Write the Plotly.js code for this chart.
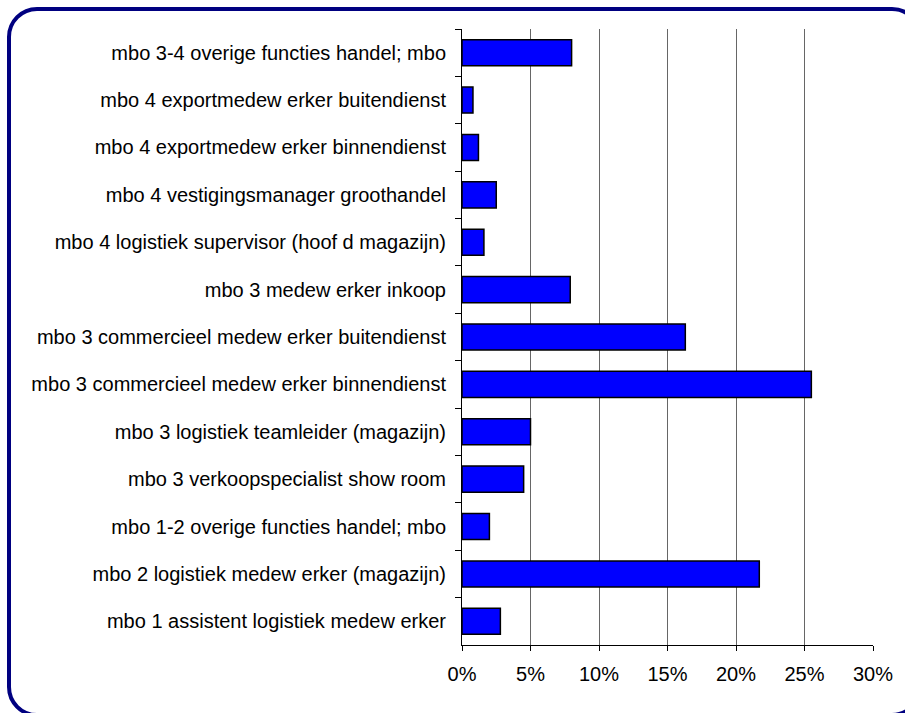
<!DOCTYPE html>
<html>
<head>
<meta charset="utf-8">
<script src="https://cdn.plot.ly/plotly-3.0.1.min.js"></script>
<style>
  html, body { margin: 0; padding: 0; background: #ffffff; overflow: hidden; }
  #wrap { position: relative; width: 905px; height: 713px; overflow: hidden; }
  #chart { position: absolute; left: 0; top: 0; width: 905px; height: 713px; }
  #frame { position: absolute; left: 7px; top: 7px; width: 915px; height: 710px;
           border: 4px solid #000080; border-radius: 30px; pointer-events: none; box-sizing: border-box; }
</style>
</head>
<body>
<div id="wrap">
  <div id="chart"></div>
  <div id="frame"></div>
</div>
<script>
// Categories, top to bottom as in the reference
const categories = [
  "mbo 3-4 overige functies handel; mbo",
  "mbo 4 exportmedew erker buitendienst",
  "mbo 4 exportmedew erker binnendienst",
  "mbo 4 vestigingsmanager groothandel",
  "mbo 4 logistiek supervisor (hoof d magazijn)",
  "mbo 3 medew erker inkoop",
  "mbo 3 commercieel medew erker buitendienst",
  "mbo 3 commercieel medew erker binnendienst",
  "mbo 3 logistiek teamleider (magazijn)",
  "mbo 3 verkoopspecialist show room",
  "mbo 1-2 overige functies handel; mbo",
  "mbo 2 logistiek medew erker (magazijn)",
  "mbo 1 assistent logistiek medew erker"
];
// Share in percent
const shares = [8.0, 0.8, 1.2, 2.5, 1.6, 7.9, 16.3, 25.5, 5.0, 4.5, 2.0, 21.7, 2.8];
const xTickValues = [0, 5, 10, 15, 20, 25, 30];

const trace = {
  type: "bar",
  orientation: "h",
  y: categories,
  x: shares,
  marker: { color: "#0000FF", line: { color: "#000000", width: 1.5 } },
  hoverinfo: "none"
};

const layout = {
  width: 905,
  height: 713,
  margin: { l: 462, r: 32, t: 29, b: 68 },
  paper_bgcolor: "rgba(0,0,0,0)",
  plot_bgcolor: "#ffffff",
  showlegend: false,
  bargap: 0.45,
  font: { family: "Liberation Sans, Arial, sans-serif", size: 20, color: "#000000" },
  xaxis: {
    range: [0, 30],
    tickvals: xTickValues,
    ticktext: xTickValues.map(v => v + "%"),
    showgrid: true,
    gridcolor: "#666666",
    gridwidth: 1,
    zeroline: false,
    showline: true,
    linecolor: "#000000",
    linewidth: 1,
    ticks: "outside",
    ticklen: 5,
    tickcolor: "#000000",
    ticklabelstandoff: 6,
    tickfont: { size: 20 },
    fixedrange: true
  },
  yaxis: {
    type: "category",
    autorange: "reversed",
    showgrid: false,
    zeroline: false,
    showline: true,
    linecolor: "#000000",
    linewidth: 1,
    ticks: "outside",
    tickson: "boundaries",
    ticklen: 6,
    tickcolor: "#000000",
    ticklabelstandoff: 11,
    tickfont: { size: 20 },
    fixedrange: true
  }
};

Plotly.newPlot("chart", [trace], layout, { displayModeBar: false, staticPlot: true });
</script>
</body>
</html>
